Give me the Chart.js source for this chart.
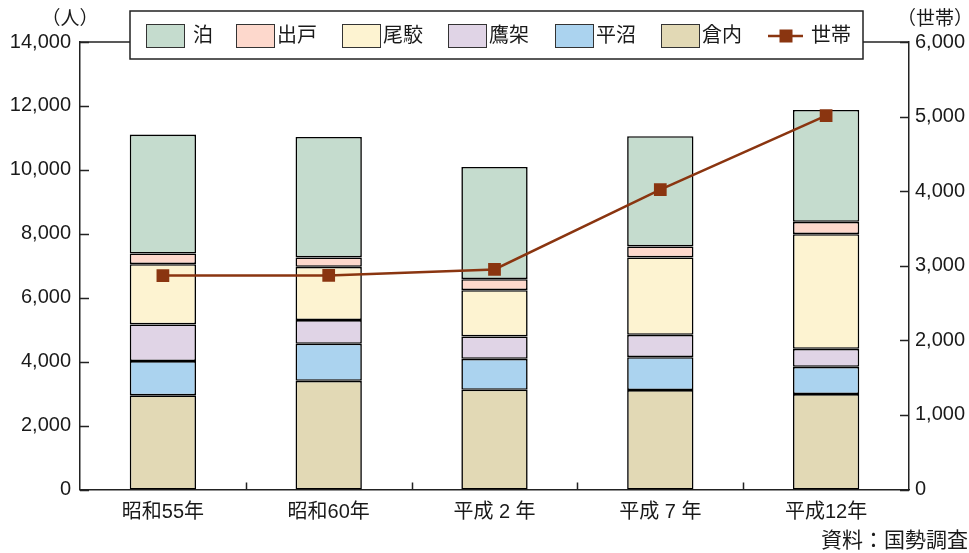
<!DOCTYPE html>
<html><head><meta charset="utf-8">
<script src="https://cdn.jsdelivr.net/npm/chart.js@4"></script>
<style>html,body{margin:0;padding:0;background:#fff}#wrap{width:969px;height:553px}</style>
</head><body><div id="wrap"><canvas id="c" width="969" height="553"></canvas></div>
<script>
const categories = ['昭和55年','昭和60年','平成 2 年','平成 7 年','平成12年'];
const kurauchi = [2945, 3400, 3120, 3110, 2986];
const hiranuma = [1072, 1159, 969, 1030, 853];
const takahoko = [1148, 740, 700, 700, 563];
const obuchi = [1885, 1667, 1448, 2420, 3586];
const deto = [334, 293, 344, 345, 385];
const tomari = [3721, 3771, 3511, 3450, 3501];
const setai = [2868, 2870, 2950, 4022, 5013];
const leftTicks = [0, 2000, 4000, 6000, 8000, 10000, 12000, 14000];
const rightTicks = [0, 1000, 2000, 3000, 4000, 5000, 6000];

const FONT = '"Liberation Sans", "Noto Sans CJK JP", sans-serif';
const TXT = '#1a1a1a';
const AX = '#222';

const barDs = (label, data, color) => ({type:'bar', label, data, backgroundColor:color, borderColor:'#000', borderWidth:1.6, borderSkipped:false, stack:'s', yAxisID:'y', order:1, categoryPercentage:0.8, barPercentage:0.5});

const datasets = [
  barDs('倉内', kurauchi, '#e2d9b5'),
  barDs('平沼', hiranuma, '#abd3ef'),
  barDs('鷹架', takahoko, '#e0d4e6'),
  barDs('尾駮', obuchi, '#fdf3d1'),
  barDs('出戸', deto, '#fdd8cc'),
  barDs('泊', tomari, '#c5dcce'),
  {type:'line', label:'世帯', data:setai, yAxisID:'y2', borderColor:'#8a3510', backgroundColor:'#8a3510', borderWidth:2.5, pointStyle:'rect', pointRadius:9, pointHoverRadius:9, pointBorderWidth:0, order:0, tension:0}
];
const legendOrder = ['泊','出戸','尾駮','鷹架','平沼','倉内'];

const deco = {
  id:'deco',
  afterDraw(chart){
    const ctx = chart.ctx, a = chart.chartArea;
    const y = chart.scales.y, y2 = chart.scales.y2, x = chart.scales.x;
    ctx.save();
    ctx.strokeStyle = AX; ctx.lineWidth = 1.5;
    ctx.beginPath(); ctx.moveTo(a.left, a.top); ctx.lineTo(a.right, a.top); ctx.stroke();
    ctx.beginPath();
    leftTicks.forEach(v => { const p = Math.round(y.getPixelForValue(v))+0.5; ctx.moveTo(a.left, p); ctx.lineTo(a.left+9, p); });
    rightTicks.forEach(v => { const p = Math.round(y2.getPixelForValue(v))+0.5; ctx.moveTo(a.right, p); ctx.lineTo(a.right-9, p); });
    for (let i = 0; i < categories.length-1; i++) {
      const p = Math.round((x.getPixelForValue(i)+x.getPixelForValue(i+1))/2)+0.5;
      ctx.moveTo(p, a.bottom); ctx.lineTo(p, a.bottom-7);
    }
    ctx.stroke();
    ctx.fillStyle = TXT; ctx.textBaseline = 'middle';
    ctx.font = '19px ' + FONT;
    ctx.textAlign = 'center'; ctx.fillText('（人）', 70, 20);
    ctx.textAlign = 'left'; ctx.fillText('（世帯）', 897, 20);
    ctx.font = '21px ' + FONT; ctx.textAlign = 'right';
    ctx.fillText('資料：国勢調査', 968, 541);
    const bx = 130, by = 11, bw = 733, bh = 48;
    ctx.fillStyle = '#fff'; ctx.fillRect(bx, by, bw, bh);
    ctx.strokeStyle = AX; ctx.lineWidth = 1.5; ctx.strokeRect(bx, by, bw, bh);
    const sx = [146, 236, 342, 448, 555, 661];
    ctx.font = '20px ' + FONT; ctx.textAlign = 'left'; ctx.textBaseline = 'middle';
    legendOrder.forEach((lab, i) => {
      const ds = chart.data.datasets.find(d => d.label === lab);
      ctx.fillStyle = ds.backgroundColor; ctx.fillRect(sx[i], 24, 38, 23);
      ctx.strokeStyle = '#333'; ctx.lineWidth = 1; ctx.strokeRect(sx[i]+0.5, 24.5, 38, 23);
      ctx.fillStyle = TXT; ctx.fillText(lab, sx[i] + (lab.length === 1 ? 47 : 41), 36);
    });
    const ld = chart.data.datasets.find(d => d.label === '世帯');
    ctx.strokeStyle = ld.borderColor; ctx.lineWidth = 2.5;
    ctx.beginPath(); ctx.moveTo(768, 36); ctx.lineTo(803, 36); ctx.stroke();
    ctx.fillStyle = ld.backgroundColor; ctx.fillRect(779.5, 29.5, 13, 13);
    ctx.fillStyle = TXT; ctx.fillText(ld.label, 811, 36);
    ctx.restore();
  }
};

const fmt = v => Number(v).toLocaleString('en-US');

new Chart(document.getElementById('c'), {
  data: {labels: categories, datasets},
  options: {
    responsive:false, animation:false, devicePixelRatio:1,
    layout:{padding:{top:42, left:0, right:0, bottom:0}},
    plugins:{legend:{display:false}, tooltip:{enabled:false}},
    scales:{
      x:{stacked:true, grid:{display:false, drawTicks:false}, border:{display:true, color:AX, width:1.5},
         ticks:{color:TXT, font:{size:20, family:FONT}, padding:11},
         afterFit(s){ s.height = 63.5; }},
      y:{stacked:true, position:'left', min:0, max:14000, afterBuildTicks(s){ s.ticks = leftTicks.map(v=>({value:v})); },
         grid:{display:false, drawTicks:false}, border:{display:true, color:AX, width:1.5},
         ticks:{color:TXT, font:{size:20, family:FONT}, padding:9, callback:fmt},
         afterFit(s){ s.width = 80; }},
      y2:{position:'right', min:0, max:6000, afterBuildTicks(s){ s.ticks = rightTicks.map(v=>({value:v})); },
         grid:{display:false, drawTicks:false}, border:{display:true, color:AX, width:1.5},
         ticks:{color:TXT, font:{size:20, family:FONT}, padding:6, callback:fmt},
         afterFit(s){ s.width = 60; }}
    }
  },
  plugins:[deco]
});
</script></body></html>
